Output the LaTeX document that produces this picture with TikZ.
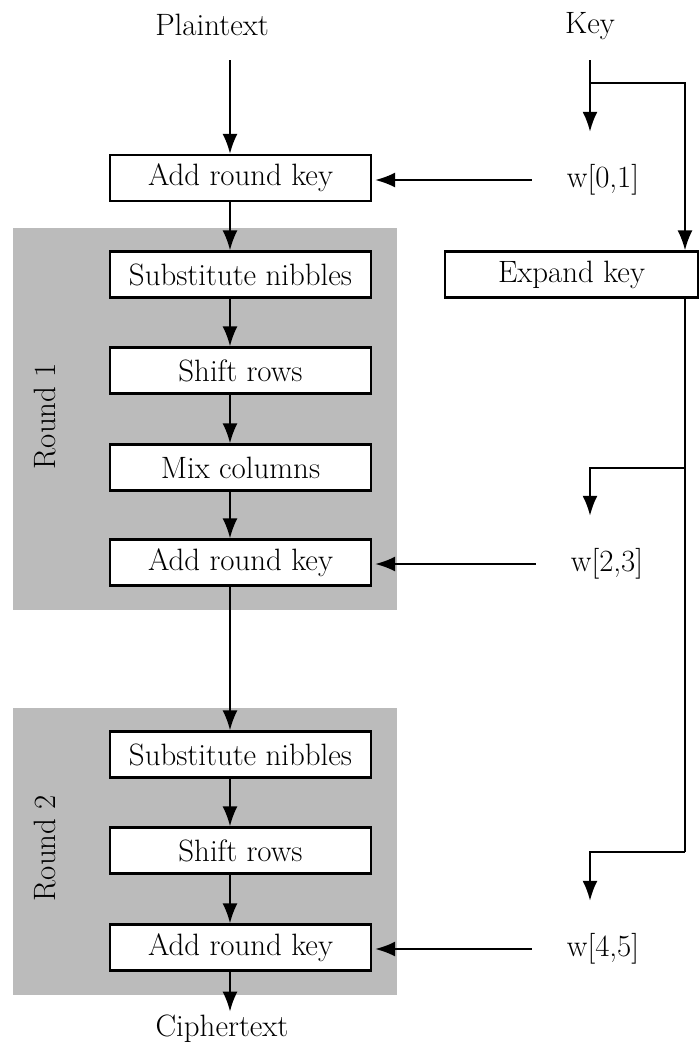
\documentclass[tikz,border=0pt]{standalone}
\usetikzlibrary{arrows.meta}
\definecolor{roundgray}{RGB}{187,187,187}
\tikzset{
  stepbox/.style={draw, fill=white, line width=2.2bp, minimum width=261bp,
    minimum height=46bp, inner sep=0pt, font=\fontsize{31}{36}\selectfont},
  lbl/.style={font=\fontsize{31}{36}\selectfont},
  wlbl/.style={font=\fontsize{31}{36}\selectfont, minimum height=96bp, inner xsep=35bp},
  ln/.style={line width=2.2bp},
  arr/.style={line width=2.2bp, -{Latex[length=20bp,width=15bp]}}
}
\begin{document}
\begin{tikzpicture}[x=1bp,y=-1bp]
\useasboundingbox (0,0) rectangle (699,1051);
% the two rounds
\fill[roundgray] (13,228) rectangle (397,610);
\fill[roundgray] (13,708) rectangle (397,995);
\node[lbl, rotate=90] (rnd1) at (45,416) {Round 1};
\node[lbl, rotate=90] (rnd2) at (45,848) {Round 2};

% data path
\node[lbl] (plain) at (212,25) {Plaintext};
\coordinate (plainout) at (230,60);
\node[stepbox] (ark0) at (240.5,178) {Add round key};
\node[stepbox] (sub1) at (240.5,274.5) {Substitute nibbles};
\node[stepbox] (shift1) at (240.5,370.5) {Shift rows};
\node[stepbox] (mix1) at (240.5,467.5) {Mix columns};
\node[stepbox] (ark1) at (240.5,562.5) {Add round key};
\node[stepbox] (sub2) at (240.5,754.5) {Substitute nibbles};
\node[stepbox] (shift2) at (240.5,850.5) {Shift rows};
\node[stepbox] (ark2) at (240.5,947.5) {Add round key};
\node[lbl] (cipher) at (222,1029) {Ciphertext};

\draw[arr] (plainout) -- (ark0.north -| plainout);
\draw[arr] (ark0.south -| plainout) -- (sub1.north -| plainout);
\draw[arr] (sub1.south -| plainout) -- (shift1.north -| plainout);
\draw[arr] (shift1.south -| plainout) -- (mix1.north -| plainout);
\draw[arr] (mix1.south -| plainout) -- (ark1.north -| plainout);
\draw[arr] (ark1.south -| plainout) -- (sub2.north -| plainout);
\draw[arr] (sub2.south -| plainout) -- (shift2.north -| plainout);
\draw[arr] (shift2.south -| plainout) -- (ark2.north -| plainout);
\draw[arr] (ark2.south -| plainout) -- (cipher.north -| plainout);

% key schedule
\node[lbl] (key) at (590,26) {Key};
\coordinate (keyout) at (590,60);
\coordinate (keysplit) at (590,83);
\coordinate (rail) at (685,83);
\coordinate (tap1) at (685,468);
\coordinate (tap2) at (685,852);
\node[stepbox, minimum width=253bp] (expand) at (571.5,274.5) {Expand key};
\node[wlbl] (w01) at (603,180) {w[0,1]};
\node[wlbl] (w23) at (607,564) {w[2,3]};
\node[wlbl] (w45) at (603,949) {w[4,5]};

\draw[arr] (keyout) -- (w01.north -| keyout);
\draw[arr] (keysplit) -- (rail) -- (rail |- expand.north);
\draw[ln] (rail |- expand.south) -- (tap2);
\draw[arr] (tap1) -| (w23.north -| keyout);
\draw[arr] (tap2) -| (w45.north -| keyout);

\draw[arr, shorten >=3bp] (w01.west) -- (ark0.east |- w01.west);
\draw[arr, shorten >=3bp] (w23.west) -- (ark1.east |- w23.west);
\draw[arr, shorten >=3bp] (w45.west) -- (ark2.east |- w45.west);
\end{tikzpicture}
\end{document}
